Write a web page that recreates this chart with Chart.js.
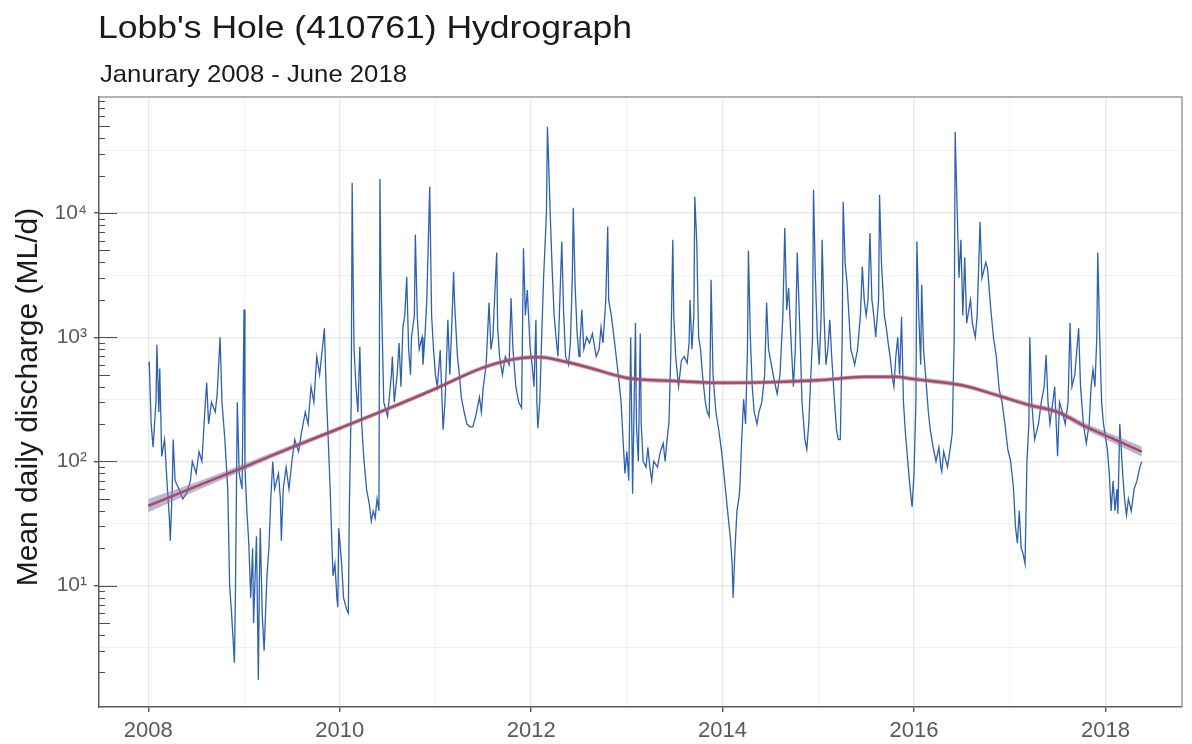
<!DOCTYPE html>
<html>
<head>
<meta charset="utf-8">
<title>Lobb's Hole (410761) Hydrograph</title>
<script src="https://cdn.jsdelivr.net/npm/chart.js@4.4.1/dist/chart.umd.min.js"></script>
<style>
  html, body { margin:0; padding:0; background:#fff; }
  #wrap { position:relative; width:1192px; height:744px; font-family:"Liberation Sans", Arial, sans-serif; color:#1a1a1a; }
  #wrap canvas { position:absolute; left:0; top:0; }
  .titulo { position:absolute; left:98px; top:11px; font-size:32px; line-height:1; white-space:nowrap; transform:scaleX(1.11); transform-origin:left top; }
  .subtitulo { position:absolute; left:100px; top:62px; font-size:24px; line-height:1; white-space:nowrap; transform:scaleX(1.07); transform-origin:left top; }
  .eixo-y { position:absolute; left:-223px; top:382px; width:500px; height:30px; font-size:30px; line-height:1; text-align:center; white-space:nowrap; transform:rotate(-90deg); }
</style>
</head>
<body>
<div id="wrap">
  <canvas id="chart-hidro" width="1192" height="744"></canvas>
  <div class="titulo">Lobb's Hole (410761) Hydrograph</div>
  <div class="subtitulo">Janurary 2008 - June 2018</div>
  <div class="eixo-y">Mean daily discharge (ML/d)</div>
</div>
<script>
// ============ DATA ============
// mean daily discharge, ML/d, by decimal year
var flowYears = [
  2008.00,2008.01,2008.03,2008.05,2008.08,2008.09,2008.11,2008.12,2008.14,2008.17,2008.20,2008.22,2008.23,2008.25,2008.26,2008.28,2008.32,2008.36,2008.40,2008.44,2008.46,2008.50,2008.53,2008.56,2008.59,2008.61,2008.63,2008.66,2008.70,2008.72,2008.75,2008.77,2008.80,2008.83,2008.85,2008.87,2008.90,2008.91,2008.93,2008.95,2008.98,
  2009.00,2009.01,2009.03,2009.05,2009.07,2009.09,2009.10,2009.13,2009.15,2009.16,2009.17,2009.19,2009.21,2009.24,2009.26,2009.28,2009.30,2009.32,2009.36,2009.38,2009.39,2009.41,2009.44,2009.47,2009.50,2009.53,2009.57,2009.60,2009.64,2009.67,2009.70,2009.73,2009.76,2009.79,2009.81,2009.84,2009.86,2009.88,2009.90,2009.92,2009.93,2009.95,2009.97,2009.98,2009.99,
  2010.02,2010.04,2010.07,2010.09,2010.10,2010.12,2010.13,2010.14,2010.15,2010.17,2010.19,2010.21,2010.23,2010.25,2010.28,2010.31,2010.33,2010.35,2010.37,2010.39,2010.41,2010.42,2010.43,2010.44,2010.46,2010.50,2010.54,2010.55,2010.57,2010.60,2010.62,2010.64,2010.66,2010.68,2010.70,2010.72,2010.74,2010.75,2010.78,2010.79,2010.81,2010.83,2010.86,2010.87,2010.89,2010.91,2010.94,2010.95,2010.96,2010.98,
  2011.00,2011.02,2011.05,2011.07,2011.08,2011.10,2011.12,2011.13,2011.15,2011.17,2011.19,2011.20,2011.23,2011.25,2011.27,2011.30,2011.33,2011.36,2011.39,2011.42,2011.46,2011.48,2011.50,2011.53,2011.56,2011.58,2011.60,2011.64,2011.65,2011.67,2011.70,2011.73,2011.77,2011.79,2011.81,2011.84,2011.87,2011.90,2011.92,2011.94,2011.96,2011.99,
  2012.01,2012.03,2012.05,2012.06,2012.07,2012.09,2012.11,2012.13,2012.16,2012.17,2012.18,2012.20,2012.22,2012.24,2012.26,2012.28,2012.30,2012.32,2012.34,2012.36,2012.39,2012.41,2012.43,2012.44,2012.46,2012.48,2012.50,2012.51,2012.53,2012.55,2012.58,2012.61,2012.64,2012.68,2012.71,2012.73,2012.75,2012.78,2012.80,2012.81,2012.84,2012.88,2012.91,2012.94,2012.96,2012.98,
  2013.00,2013.02,2013.04,2013.06,2013.09,2013.10,2013.12,2013.14,2013.15,2013.17,2013.20,2013.22,2013.24,2013.26,2013.28,2013.32,2013.35,2013.38,2013.40,2013.42,2013.44,2013.46,2013.48,2013.49,2013.51,2013.54,2013.57,2013.60,2013.63,2013.65,2013.66,2013.68,2013.70,2013.71,2013.73,2013.75,2013.77,2013.79,2013.82,2013.84,2013.86,2013.87,2013.88,2013.90,2013.93,2013.96,2013.99,
  2014.03,2014.06,2014.08,2014.10,2014.11,2014.13,2014.15,2014.17,2014.18,2014.20,2014.22,2014.24,2014.26,2014.27,2014.29,2014.31,2014.33,2014.36,2014.38,2014.41,2014.44,2014.46,2014.48,2014.51,2014.54,2014.57,2014.60,2014.63,2014.65,2014.67,2014.69,2014.72,2014.74,2014.76,2014.78,2014.81,2014.83,2014.86,2014.88,2014.90,2014.94,2014.95,2014.97,2014.99,
  2015.01,2015.03,2015.04,2015.06,2015.08,2015.10,2015.12,2015.14,2015.17,2015.19,2015.21,2015.23,2015.25,2015.26,2015.28,2015.30,2015.32,2015.34,2015.36,2015.38,2015.41,2015.44,2015.46,2015.48,2015.50,2015.52,2015.54,2015.56,2015.58,2015.60,2015.63,2015.64,2015.66,2015.69,2015.71,2015.73,2015.75,2015.77,2015.79,2015.81,2015.83,2015.85,2015.87,2015.89,2015.91,2015.94,2015.96,2015.98,
  2016.00,2016.02,2016.03,2016.05,2016.07,2016.08,2016.10,2016.13,2016.15,2016.17,2016.20,2016.23,2016.26,2016.28,2016.29,2016.31,2016.35,2016.38,2016.40,2016.42,2016.43,2016.45,2016.47,2016.49,2016.51,2016.53,2016.55,2016.59,2016.61,2016.64,2016.66,2016.69,2016.71,2016.75,2016.77,2016.80,2016.83,2016.86,2016.89,2016.92,2016.95,2016.98,
  2017.01,2017.04,2017.06,2017.08,2017.10,2017.12,2017.14,2017.16,2017.18,2017.20,2017.21,2017.23,2017.26,2017.30,2017.33,2017.36,2017.38,2017.40,2017.42,2017.45,2017.47,2017.50,2017.52,2017.55,2017.58,2017.61,2017.63,2017.65,2017.68,2017.72,2017.74,2017.77,2017.80,2017.83,2017.85,2017.87,2017.89,2017.91,2017.92,2017.94,2017.96,2017.98,
  2018.02,2018.04,2018.06,2018.08,2018.10,2018.12,2018.13,2018.15,2018.18,2018.20,2018.22,2018.24,2018.27,2018.30,2018.33,2018.36,2018.38
];
var flowValues = [
  600,620,200,130,300,870,250,560,110,150,60,35,23,60,150,70,60,50,55,70,100,80,120,100,250,430,200,300,250,350,1000,300,150,60,10,6,2.4,8,300,80,60,
  1670,90,40,22,8,20,5,25,1.75,10,29,6,3,12,20,50,100,60,80,50,23,60,90,60,100,150,120,170,250,200,400,300,700,500,700,1180,350,150,60,20,12,15,8,6.7,29,
  15,8,6.5,6,40,300,17500,3000,800,400,250,840,200,110,60,45,33,40,35,50,40,18800,3500,1500,300,230,500,700,300,500,900,400,1200,1500,3070,800,500,1000,1500,6700,1500,800,1000,600,1000,2000,16300,5000,1500,800,
  500,400,790,300,180,300,800,1380,500,1200,3370,1900,700,500,330,250,200,190,190,230,330,250,400,600,1900,800,1000,4800,1200,700,500,700,600,2070,800,400,300,270,5200,1500,2400,800,
  600,400,1380,300,185,300,1000,3000,10000,49500,30000,9400,3500,1500,1000,700,2000,5900,1500,700,600,900,3000,11000,2500,1100,700,900,1660,800,1000,900,1070,700,800,1200,900,2000,7800,2000,1460,800,500,300,150,80,
  120,70,1000,55,1300,200,100,1070,200,100,90,130,90,70,100,90,120,140,100,150,205,800,6100,1500,700,400,650,700,620,900,2000,800,1500,13500,5900,1000,800,500,300,250,230,600,2900,500,250,180,120,
  60,35,25,15,8,20,40,50,60,150,316,200,800,5000,1000,400,250,200,250,300,500,1900,800,600,450,350,500,1500,7600,1660,2500,800,400,800,4800,1000,300,150,125,200,1000,15400,3000,1000,
  600,1500,6100,1500,600,800,1380,700,300,180,150,150,1000,12300,4000,2750,1500,800,700,600,800,1500,3700,2000,1500,2000,6900,2000,1500,1000,2000,14000,4000,1500,1200,900,700,500,400,700,1000,500,1460,300,170,90,60,43,
  80,300,5900,1500,600,2650,800,400,250,180,130,100,130,90,83,120,90,130,170,1000,45000,11300,3000,6100,1500,4400,1300,2000,1300,1000,1500,8500,3000,4000,3500,1760,1000,700,380,300,200,125,
  100,60,30,22,40,20,18,15,100,200,1000,300,150,200,300,400,720,300,200,300,400,110,300,250,200,300,1300,400,500,1180,400,200,140,200,400,550,400,1000,4800,1000,300,200,
  125,80,40,70,40,60,38,200,80,50,37,50,40,60,70,90,100
];

// smoothed trend and its band
var trendYears  = [2008.0,2008.5,2009.0,2009.5,2010.0,2010.5,2011.0,2011.5,2011.9,2012.1,2012.3,2012.6,2013.0,2013.5,2014.0,2014.5,2015.0,2015.5,2015.8,2016.0,2016.5,2016.9,2017.2,2017.5,2017.8,2018.1,2018.38];
var trendValues = [44,63,90,130,185,265,385,570,680,690,650,570,470,445,430,435,450,480,480,460,410,335,285,250,190,150,120];
var trendLow    = [39,58,85,124,177,254,369,547,652,662,624,547,451,427,413,418,432,461,461,441,393,321,272,238,179,139,109];
var trendHigh   = [50,68,96,136,193,276,401,594,709,719,677,594,490,464,448,453,469,500,500,480,428,350,298,263,202,162,132];

// axis ticks
var yearTicks  = [2008,2009,2010,2011,2012,2013,2014,2015,2016,2017,2018];
var flowTicks  = [3.162,10,31.62,100,316.2,1000,3162,10000,31623];
var flowLabels = { 10:'10\u00B9', 100:'10\u00B2', 1000:'10\u00B3', 10000:'10\u2074' };

// ============ HELPERS ============
function pares(xs, ys) {
  return xs.map(function(x, i) { return { x: x, y: ys[i] }; });
}

function ehMaior(v) {
  return Math.abs(Math.log10(v) - Math.round(Math.log10(v))) < 0.01;
}

// left log ticks + top/right panel border
var molduraPainel = {
  id: 'molduraPainel',
  afterDraw: function(chart) {
    var ctx = chart.ctx, a = chart.chartArea, sy = chart.scales.y;
    ctx.save();
    ctx.strokeStyle = '#4d4d4d';
    ctx.lineWidth = 1;
    for (var p = 0; p <= 4; p++) {
      for (var k = 1; k <= 9; k++) {
        var v = k * Math.pow(10, p);
        if (v < sy.min || v > sy.max) continue;
        var py = Math.round(sy.getPixelForValue(v)) + 0.5;
        var len = k === 1 ? 18 : (k === 5 ? 11 : 6);
        ctx.beginPath();
        ctx.moveTo(a.left, py);
        ctx.lineTo(a.left + len, py);
        ctx.stroke();
      }
    }
    ctx.strokeStyle = '#9a9a9a';
    ctx.lineWidth = 1.5;
    ctx.beginPath();
    ctx.moveTo(a.left, a.top);
    ctx.lineTo(a.right, a.top);
    ctx.lineTo(a.right, a.bottom);
    ctx.stroke();
    ctx.restore();
  }
};

// ============ CHART ============
function renderHidrograma() {
  var canvas = document.getElementById('chart-hidro');

  new Chart(canvas, {
    type: 'line',
    data: {
      datasets: [
        {
          label: 'Discharge',
          data: pares(flowYears, flowValues),
          borderColor: 'rgba(28,84,168,0.92)',
          borderWidth: 1.3,
          pointRadius: 0,
          tension: 0,
          order: 4
        },
        {
          label: 'Band high',
          data: pares(trendYears, trendHigh),
          borderWidth: 0,
          borderColor: 'rgba(0,0,0,0)',
          backgroundColor: 'rgba(118,128,178,0.55)',
          pointRadius: 0,
          cubicInterpolationMode: 'monotone',
          fill: '+1',
          order: 3
        },
        {
          label: 'Band low',
          data: pares(trendYears, trendLow),
          borderWidth: 0,
          borderColor: 'rgba(0,0,0,0)',
          pointRadius: 0,
          cubicInterpolationMode: 'monotone',
          fill: false,
          order: 3
        },
        {
          label: 'Trend',
          data: pares(trendYears, trendValues),
          borderColor: '#b0485f',
          borderWidth: 2.5,
          pointRadius: 0,
          cubicInterpolationMode: 'monotone',
          order: 1
        }
      ]
    },
    options: {
      responsive: false,
      animation: false,
      layout: { padding: { top: 97, right: 10, bottom: 0, left: 0 } },
      plugins: { legend: { display: false }, tooltip: { enabled: false } },
      scales: {
        x: {
          type: 'linear',
          min: 2007.485,
          max: 2018.80,
          afterBuildTicks: function(s) { s.ticks = yearTicks.map(function(v) { return { value: v }; }); },
          afterFit: function(s) { s.height = 37; },
          ticks: {
            autoSkip: false, maxRotation: 0, padding: 6,
            color: '#5a5a5a',
            font: { family: '"Liberation Sans", Arial, sans-serif', size: 22 },
            callback: function(v) { return v % 2 === 0 ? String(v) : ''; }
          },
          grid: {
            tickLength: 5,
            color: function(c) { return c.tick && c.tick.value % 2 === 0 ? 'rgba(0,0,0,0.085)' : 'rgba(0,0,0,0.05)'; },
            lineWidth: function(c) { return c.tick && c.tick.value % 2 === 0 ? 1.4 : 1; },
            tickColor: function(c) { return c.tick && c.tick.value % 2 === 0 ? '#555' : 'rgba(0,0,0,0)'; }
          },
          border: { display: true, color: '#5c5c5c', width: 1.5 }
        },
        y: {
          type: 'logarithmic',
          min: 1.055,
          max: 85900,
          afterBuildTicks: function(s) { s.ticks = flowTicks.map(function(v) { return { value: v }; }); },
          afterFit: function(s) { s.width = 99; },
          ticks: {
            autoSkip: false, padding: 7,
            color: '#5a5a5a',
            font: { family: '"Liberation Sans", Arial, sans-serif', size: 21 },
            callback: function(v) { return flowLabels[Math.round(v)] || ''; }
          },
          grid: {
            tickLength: 5,
            color: function(c) { return c.tick && ehMaior(c.tick.value) ? 'rgba(0,0,0,0.085)' : 'rgba(0,0,0,0.05)'; },
            lineWidth: function(c) { return c.tick && ehMaior(c.tick.value) ? 1.4 : 1; },
            tickColor: function(c) { return c.tick && ehMaior(c.tick.value) ? '#555' : 'rgba(0,0,0,0)'; }
          },
          border: { display: true, color: '#5c5c5c', width: 1.5 }
        }
      }
    },
    plugins: [molduraPainel]
  });
}

renderHidrograma();
</script>
</body>
</html>
